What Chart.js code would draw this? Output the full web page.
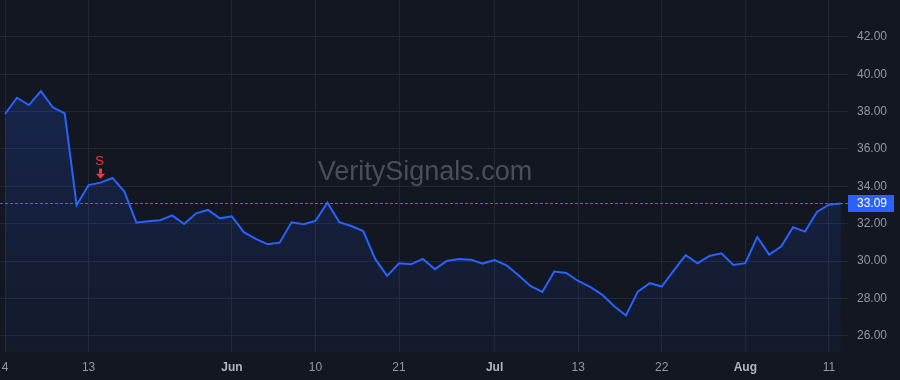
<!DOCTYPE html>
<html>
<head>
<meta charset="utf-8">
<script src="https://cdn.jsdelivr.net/npm/chart.js@4"></script>
<style>
html,body{margin:0;padding:0;background:#131722;}
#wrap{width:900px;height:380px;}
</style>
</head>
<body>
<div id="wrap"><canvas id="c" width="900" height="380"></canvas></div>
<script>
// Trading days (2021)
const dates = [
 "2021-05-04","2021-05-05","2021-05-06","2021-05-07","2021-05-10","2021-05-11","2021-05-12","2021-05-13","2021-05-14","2021-05-17",
 "2021-05-18","2021-05-19","2021-05-20","2021-05-21","2021-05-24","2021-05-25","2021-05-26","2021-05-27","2021-05-28",
 "2021-06-01","2021-06-02","2021-06-03","2021-06-04","2021-06-07","2021-06-08","2021-06-09","2021-06-10","2021-06-11","2021-06-14",
 "2021-06-15","2021-06-16","2021-06-17","2021-06-18","2021-06-21","2021-06-22","2021-06-23","2021-06-24","2021-06-25","2021-06-28",
 "2021-06-29","2021-06-30",
 "2021-07-01","2021-07-02","2021-07-06","2021-07-07","2021-07-08","2021-07-09","2021-07-12","2021-07-13","2021-07-14","2021-07-15",
 "2021-07-16","2021-07-19","2021-07-20","2021-07-21","2021-07-22","2021-07-23","2021-07-26","2021-07-27","2021-07-28","2021-07-29",
 "2021-07-30",
 "2021-08-02","2021-08-03","2021-08-04","2021-08-05","2021-08-06","2021-08-09","2021-08-10","2021-08-11","2021-08-12"
];
const prices = [
 37.87,38.74,38.35,39.10,38.23,37.91,32.99,34.07,34.20,34.45,
 33.72,32.06,32.13,32.19,32.45,31.99,32.56,32.74,32.29,
 32.40,31.55,31.19,30.90,30.99,32.08,31.97,32.15,33.13,32.08,
 31.88,31.61,30.12,29.21,29.89,29.83,30.12,29.57,30.01,30.12,
 30.08,29.87,
 30.06,29.78,29.25,28.67,28.35,29.44,29.37,28.94,28.62,28.21,
 27.60,27.09,28.37,28.82,28.64,29.49,30.32,29.89,30.28,30.42,
 29.80,
 29.89,31.29,30.35,30.78,31.81,31.58,32.63,33.02,33.09
];
const tickDates = ["2021-05-04","2021-05-13","2021-06-01","2021-06-10","2021-06-21","2021-07-01","2021-07-13","2021-07-22","2021-08-02","2021-08-11"];
const yTicks = [26,28,30,32,34,36,38,40,42];
const signalDates = ["2021-05-14"];
const signalLabels = ["S"];
const lastPrice = 33.09;
const watermark = "VeritySignals.com";

const monthNames = ["Jan","Feb","Mar","Apr","May","Jun","Jul","Aug","Sep","Oct","Nov","Dec"];
const tickIdx = tickDates.map(d => dates.indexOf(d));
function isMonthStart(i){
  if (i === undefined || i <= 0 || i >= dates.length) return false;
  return dates[i].slice(5,7) !== dates[i-1].slice(5,7);
}
function tickText(i){
  const d = dates[i];
  if (!d) return '';
  if (isMonthStart(i)) return monthNames[parseInt(d.slice(5,7),10)-1];
  return String(parseInt(d.slice(8,10),10));
}

const FONT = "'Liberation Sans', Arial, sans-serif";
const points = prices.map((v,i)=>({x:i,y:v}));

const overlay = {
  id:'overlay',
  beforeDatasetsDraw(chart){
    const {ctx, chartArea:a} = chart;
    ctx.save();
    ctx.font = "27px " + FONT;
    ctx.fillStyle = "rgba(120,124,134,0.55)";
    ctx.textAlign = "center";
    ctx.textBaseline = "middle";
    ctx.fillText(watermark, (a.left + a.right)/2 + 1, 173);
    ctx.restore();
  },
  afterDatasetsDraw(chart){
    const {ctx, chartArea:a, scales} = chart;
    const y = scales.y.getPixelForValue(lastPrice);
    const yr = Math.round(y);
    ctx.save();
    ctx.fillStyle = "#2f6bff";
    for (let x = a.left; x < a.right; x += 5) {
      ctx.fillRect(x, yr, 3, 1);
    }
    ctx.fillStyle = "#2962ff";
    ctx.fillRect(a.right, yr-8, 46, 17);
    ctx.fillStyle = "#ffffff";
    ctx.font = "12px " + FONT;
    ctx.textAlign = "left";
    ctx.textBaseline = "middle";
    ctx.fillText(lastPrice.toFixed(2), a.right + 9, yr+1);
    signalDates.forEach((d,k)=>{
      const i = dates.indexOf(d);
      const px = scales.x.getPixelForValue(i);
      const py = scales.y.getPixelForValue(prices[i]);
      ctx.fillStyle = "#f23645";
      const tip = py - 4;
      ctx.fillRect(px-1.5, tip-10, 3, 5);
      ctx.beginPath();
      ctx.moveTo(px-4.5, tip-5);
      ctx.lineTo(px+4.5, tip-5);
      ctx.lineTo(px, tip);
      ctx.closePath();
      ctx.fill();
      ctx.font = "13px " + FONT;
      ctx.textAlign = "center";
      ctx.textBaseline = "middle";
      ctx.fillText(signalLabels[k], px-1, tip-17);
    });
    ctx.restore();
  }
};

function noPad(ax){ ax.paddingLeft = 0; ax.paddingRight = 0; ax.paddingTop = 0; ax.paddingBottom = 0; }

const ctx = document.getElementById('c').getContext('2d');
new Chart(ctx, {
  type:'line',
  data:{datasets:[{
    data: points,
    borderColor:'#2962ff',
    borderWidth:2,
    pointRadius:0,
    tension:0,
    fill:'start',
    backgroundColor:(c)=>{
      const a = c.chart.chartArea;
      if(!a) return 'rgba(41,98,255,0.1)';
      const g = c.chart.ctx.createLinearGradient(0,a.top+80,0,a.bottom);
      g.addColorStop(0,'rgba(41,98,255,0.20)');
      g.addColorStop(1,'rgba(41,98,255,0.04)');
      return g;
    }
  }]},
  options:{
    responsive:false,
    animation:false,
    layout:{padding:0},
    plugins:{legend:{display:false},tooltip:{enabled:false}},
    scales:{
      x:{
        type:'linear',
        min:-0.42, max:70.6,
        afterBuildTicks(ax){ ax.ticks = tickIdx.map(v=>({value:v})); },
        afterFit(ax){ ax.height = 28; noPad(ax); },
        grid:{color:'#232733', drawTicks:false},
        border:{display:false},
        ticks:{
          padding:8,
          maxRotation:0,
          autoSkip:false,
          color:(c)=> (c.tick && isMonthStart(c.tick.value)) ? '#b2b5be' : '#9598a1',
          font:(c)=>({family:FONT, size:12, weight: (c.tick && isMonthStart(c.tick.value)) ? 'bold' : 'normal'}),
          callback:(v)=>tickText(v)
        }
      },
      y:{
        position:'right',
        min:25.14, max:43.97,
        afterBuildTicks(ax){ ax.ticks = yTicks.map(v=>({value:v})); },
        afterFit(ax){ ax.width = 52; noPad(ax); },
        grid:{color:'#232733', drawTicks:false},
        border:{display:false},
        ticks:{
          padding:9,
          color:'#9598a1',
          font:{family:FONT, size:12},
          callback:(v)=>Number(v).toFixed(2)
        }
      }
    }
  },
  plugins:[overlay]
});
</script>
</body>
</html>
